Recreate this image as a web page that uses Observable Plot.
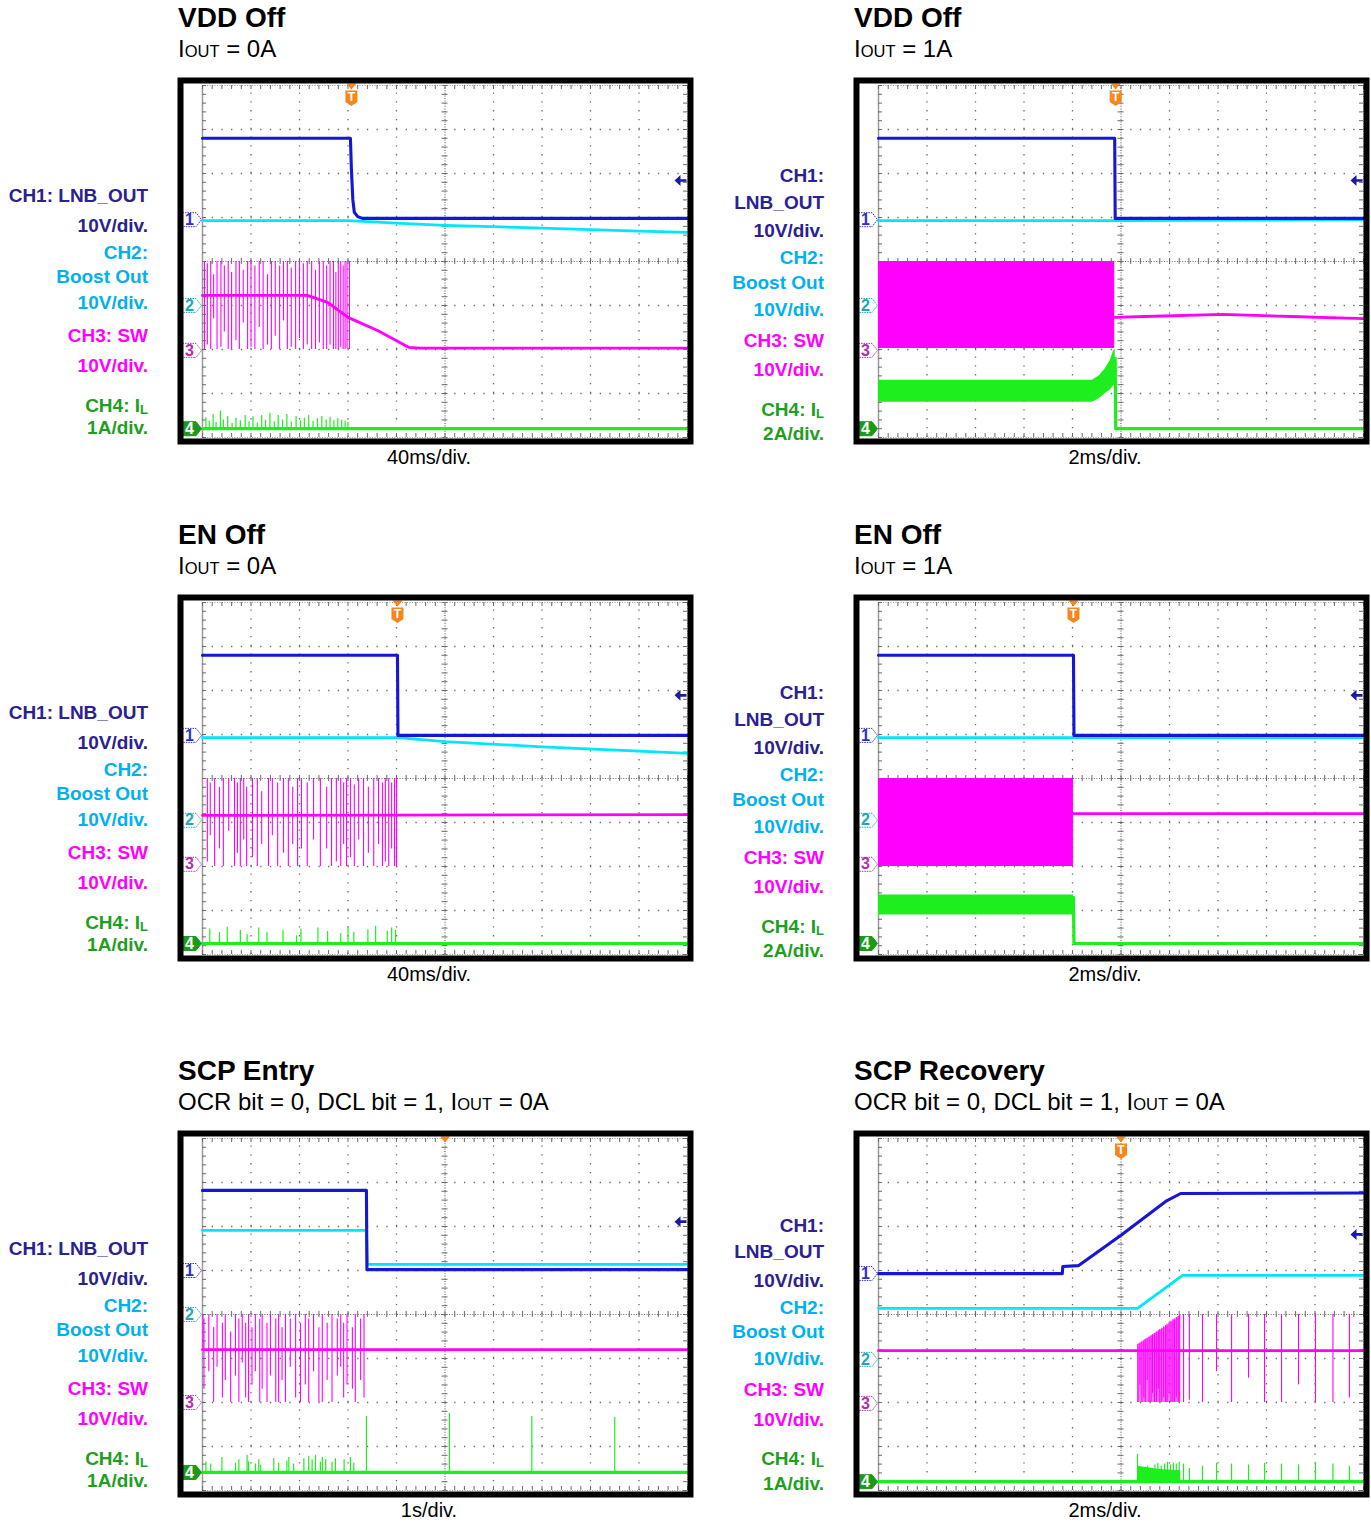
<!DOCTYPE html>
<html><head><meta charset="utf-8">
<script src="https://cdn.jsdelivr.net/npm/d3@7"></script>
<script src="https://cdn.jsdelivr.net/npm/@observablehq/plot@0.6"></script>
<style>
body{margin:0;background:#fff;}
#page{position:relative;width:1371px;height:1522px;background:#fff;font-family:"Liberation Sans",Arial,Helvetica,sans-serif;overflow:hidden;}
.title{position:absolute;font-weight:bold;font-size:28px;line-height:28px;white-space:nowrap;color:#000;}
.sub{position:absolute;font-size:24px;line-height:24px;white-space:nowrap;color:#000;}
.sub .s{font-size:16.5px;}
.tdiv{position:absolute;width:200px;text-align:center;font-size:20px;line-height:20px;color:#000;}
.lab{position:absolute;width:170px;text-align:right;font-weight:bold;font-size:19px;line-height:19px;white-space:nowrap;}
.lab sub{font-size:13px;vertical-align:-2px;line-height:0;}
.plot{position:absolute;}
</style></head><body><div id="page"></div>
<script>
// ---------- text ----------
const panelTitles = ["VDD Off","VDD Off","EN Off","EN Off","SCP Entry","SCP Recovery"];
const panelPrefix = ["","","","","OCR bit = 0, DCL bit = 1, ","OCR bit = 0, DCL bit = 1, "];
const panelIout = ["0A","1A","0A","1A","0A","0A"];
const timeDivs = ["40ms/div.","2ms/div.","40ms/div.","2ms/div.","1s/div.","2ms/div."];
const ch4Scales = ["1A/div.","2A/div.","1A/div.","2A/div.","1A/div.","1A/div."];
const splitCh1 = [false,true,false,true,false,true];
const triggerPos = [-1.93,-0.11,-0.98,-0.98,0,0];
const triggerBadge = [true,true,true,true,false,true];
const refArrow = [1.84,1.84,1.89,1.89,2.11,1.82];

// ---------- traces (time in divisions, level in divisions) ----------
const p1Ch1 = [[-5,2.8],[-1.95,2.8],[-1.93,2.1],[-1.9,1.4],[-1.87,1.12],[-1.8,1.02],[-1.7,0.98],[5,0.98]];
const p1Ch2 = [[-5,0.93],[-2.0,0.93],[-1.0,0.87],[0,0.82],[2,0.76],[4,0.69],[5,0.66]];
const p1Ch3 = [[-5,-0.77],[-2.84,-0.77],[-2.42,-0.93],[-2.0,-1.27],[-1.39,-1.57],[-0.75,-1.95],[-0.5,-1.97],[5,-1.97]];
const p1Ch4 = [[-5,-3.8],[5,-3.8]];
const p1Sw = [[-4.96,0,-2],[-4.9,-0.05,-1.9],[-4.83,0,-2],[-4.77,-0.3,-1.3],[-4.7,0,-2],[-4.62,0,-1.95],[-4.55,-0.1,-1.6],[-4.47,0,-2],[-4.4,-0.25,-2],[-4.31,0,-1.8],[-4.24,0,-2],[-4.16,-0.2,-1.4],[-4.07,0,-2],[-4.0,0,-1.95],[-3.92,-0.1,-2],[-3.83,0,-1.5],[-3.75,0,-2],[-3.66,-0.3,-1.9],[-3.58,0,-2],[-3.5,0,-1.7],[-3.41,-0.1,-2],[-3.33,0,-1.35],[-3.25,0,-2],[-3.17,-0.15,-1.95],[-3.08,0,-2],[-3.0,0,-1.75],[-2.92,-0.05,-2],[-2.84,0,-1.9],[-2.75,0,-2],[-2.67,-0.2,-2],[-2.59,0,-1.85],[-2.51,0,-2],[-2.44,-0.1,-2],[-2.37,0,-1.9],[-2.3,0,-2],[-2.25,-0.25,-2],[-2.2,0,-2],[-2.15,0,-1.95],[-2.1,-0.1,-2],[-2.06,0,-2],[-2.02,0,-1.98],[-1.97,0,-2]];
const p1Il = [[-4.93,-3.55],[-4.86,-3.63],[-4.78,-3.48],[-4.72,-3.66],[-4.63,-3.4],[-4.57,-3.6],[-4.48,-3.52],[-4.39,-3.68],[-4.31,-3.56],[-4.22,-3.62],[-4.12,-3.5],[-4.04,-3.64],[-3.96,-3.53],[-3.87,-3.67],[-3.78,-3.5],[-3.7,-3.61],[-3.61,-3.45],[-3.52,-3.64],[-3.44,-3.5],[-3.35,-3.6],[-3.26,-3.48],[-3.17,-3.65],[-3.07,-3.52],[-2.98,-3.62],[-2.9,-3.56],[-2.81,-3.5],[-2.72,-3.63],[-2.63,-3.57],[-2.54,-3.52],[-2.45,-3.6],[-2.37,-3.54],[-2.29,-3.62],[-2.21,-3.57],[-2.13,-3.6],[-2.06,-3.63],[-2.0,-3.66]];
const p1Tags = [0.95,-1.0,-2.02,-3.8];

const p2Ch1 = [[-5,2.8],[-0.13,2.8],[-0.12,0.98],[5,0.98]];
const p2Ch2 = [[-5,0.93],[-0.12,0.93],[5,0.95]];
const p2Ch3 = [[-0.13,-1.27],[0.5,-1.25],[2.09,-1.2],[3.5,-1.25],[5,-1.3]];
const p2Ch4 = [[-0.12,-2.2],[-0.11,-3.8],[5,-3.8]];
const p2SwBand = [[-5,-1.98,0],[-0.13,-1.98,0]];
const p2IlBand = [[-5,-3.2,-2.7],[-0.59,-3.2,-2.7],[-0.45,-3.12,-2.6],[-0.32,-3.0,-2.43],[-0.22,-2.92,-2.25],[-0.15,-2.82,-2.02],[-0.12,-2.8,-2.0]];
const p2Tags = [0.95,-1.0,-2.02,-3.8];

const p3Ch1 = [[-5,2.8],[-0.98,2.8],[-0.97,0.98],[5,0.98]];
const p3Ch2 = [[-5,0.93],[-0.98,0.93],[0,0.84],[2,0.72],[4,0.62],[5,0.57]];
const p3Ch3 = [[-5,-0.84],[5,-0.82]];
const p3Ch4 = [[-5,-3.75],[5,-3.75]];
const p3Sw = [[-4.9,0,-1.9],[-4.84,-0.1,-1.3],[-4.75,0,-2],[-4.65,-0.2,-1.6],[-4.57,0,-2],[-4.46,0,-1.2],[-4.34,0,-2],[-4.28,-0.1,-1.7],[-4.22,0,-2],[-4.15,0,-1.4],[-4.09,-0.2,-2],[-3.97,0,-1.8],[-3.87,0,-2],[-3.78,-0.3,-1.5],[-3.64,0,-2],[-3.56,0,-1.3],[-3.45,-0.1,-2],[-3.33,0,-1.7],[-3.23,0,-2],[-3.14,-0.2,-1.5],[-3.04,0,-2],[-2.96,0,-1.6],[-2.84,-0.1,-2],[-2.71,0,-1.4],[-2.57,0,-2],[-2.44,-0.2,-1.6],[-2.34,0,-2],[-2.24,0,-1.9],[-2.15,0,-2],[-2.09,-0.1,-1.5],[-2.03,0,-2],[-1.95,0,-1.8],[-1.87,-0.15,-2],[-1.78,0,-1.4],[-1.68,0,-2],[-1.58,-0.2,-1.7],[-1.47,0,-2],[-1.37,0,-1.5],[-1.29,-0.1,-2],[-1.23,0,-1.9],[-1.16,0,-2],[-1.1,-0.1,-1.6],[-1.04,0,-2],[-1.0,0,-2]];
const p3Il = [[-4.85,-3.42],[-4.65,-3.5],[-4.49,-3.38],[-4.22,-3.45],[-4.08,-3.55],[-3.84,-3.4],[-3.67,-3.5],[-3.34,-3.45],[-3.06,-3.58],[-2.97,-3.42],[-2.62,-3.4],[-2.42,-3.48],[-2.15,-3.52],[-2.0,-3.38],[-1.88,-3.5],[-1.59,-3.44],[-1.43,-3.36],[-1.19,-3.47],[-1.1,-3.4],[-1.02,-3.45]];
const p3Tags = [0.98,-0.95,-1.95,-3.75];

const p4Ch1 = [[-5,2.8],[-0.98,2.8],[-0.97,0.98],[5,0.98]];
const p4Ch2 = [[-5,0.93],[5,0.93]];
const p4Ch3 = [[-0.98,-0.8],[5,-0.8]];
const p4Ch4 = [[-0.98,-2.7],[-0.97,-3.75],[5,-3.75]];
const p4SwBand = [[-5,-2,0],[-0.98,-2,0]];
const p4IlBand = [[-5,-3.1,-2.65],[-0.98,-3.1,-2.65]];
const p4Tags = [0.98,-0.95,-1.95,-3.75];

const p5Ch1 = [[-5,2.82],[-1.62,2.82],[-1.61,1.02],[5,1.02]];
const p5Ch2 = [[-5,1.91],[-1.62,1.91],[-1.6,1.14],[5,1.14]];
const p5Ch3 = [[-5,-0.8],[5,-0.8]];
const p5Ch4 = [[-5,-3.59],[5,-3.59]];
const p5Sw = [[-4.99,0,-0.8],[-4.97,-0.1,-1.7],[-4.87,0,-1.3],[-4.77,-0.3,-2],[-4.7,0,-1.2],[-4.59,-0.2,-1.9],[-4.53,0,-1.5],[-4.42,-0.4,-2],[-4.32,0,-1.4],[-4.25,-0.1,-2],[-4.18,0,-1.1],[-4.11,-0.2,-1.9],[-4.05,0,-2],[-3.98,-0.3,-1.6],[-3.91,0,-1.3],[-3.82,-0.1,-2],[-3.77,0,-1.7],[-3.67,-0.2,-2],[-3.6,0,-1.4],[-3.49,-0.1,-2],[-3.43,0,-2],[-3.36,-0.3,-1.5],[-3.29,0,-2],[-3.19,-0.1,-1.2],[-3.08,0,-1.9],[-2.98,-0.2,-2],[-2.88,0,-1.6],[-2.81,-0.1,-2],[-2.71,0,-1.3],[-2.6,-0.3,-2],[-2.53,0,-2],[-2.43,-0.2,-1.5],[-2.33,0,-2],[-2.22,-0.1,-1.4],[-2.15,0,-1.2],[-2.09,-0.2,-1.9],[-2.02,0,-1.6],[-1.91,-0.3,-1.7],[-1.85,0,-2],[-1.74,-0.1,-1.5],[-1.67,0,-1.9]];
const p5Il = [[-4.93,-3.35],[-4.83,-3.4],[-4.6,-3.25],[-4.32,-3.38],[-4.25,-3.3],[-4.08,-3.2],[-4.05,-3.35],[-3.91,-3.4],[-3.84,-3.3],[-3.8,-3.42],[-3.53,-3.27],[-3.43,-3.38],[-3.26,-3.33],[-3.22,-3.25],[-3.12,-3.4],[-2.91,-3.28],[-2.81,-3.22],[-2.74,-3.3],[-2.67,-3.2],[-2.57,-3.35],[-2.53,-3.25],[-2.46,-3.3],[-2.33,-3.36],[-2.26,-3.28],[-2.08,-3.3],[-1.95,-3.25],[-1.88,-3.38],[-1.62,-2.32],[0.09,-2.25],[1.79,-2.32],[3.5,-2.34]];
const p5Tags = [1.0,0,-2.0,-3.59];

const p6Ch1 = [[-5,0.93],[-1.21,0.93],[-1.2,1.09],[-0.88,1.11],[0,1.8],[0.92,2.57],[1.23,2.75],[5,2.76]];
const p6Ch2 = [[-5,0.14],[0.34,0.14],[1.27,0.89],[5,0.89]];
const p6Ch3 = [[-5,-0.82],[5,-0.82]];
const p6Ch4 = [[-5,-3.8],[5,-3.8]];
const p6SwBand = [[0.34,-2.0,-0.68],[0.6,-2.0,-0.5],[0.9,-2.0,-0.3],[1.1,-2.0,-0.13],[1.22,-2.0,-0.03]];
const p6Sw = [[0.35,-0.68,-2],[0.39,-0.66,-1.6],[0.43,-0.63,-2],[0.47,-0.6,-1.9],[0.5,-0.57,-2],[0.54,-0.55,-1.5],[0.58,-0.52,-2],[0.62,-0.49,-2],[0.65,-0.46,-1.8],[0.69,-0.43,-2],[0.73,-0.4,-2],[0.77,-0.37,-1.7],[0.8,-0.34,-2],[0.84,-0.31,-2],[0.88,-0.28,-1.9],[0.92,-0.25,-2],[0.95,-0.22,-2],[0.99,-0.19,-1.8],[1.03,-0.15,-2],[1.07,-0.12,-2],[1.1,-0.1,-2],[1.14,-0.07,-1.9],[1.18,-0.04,-2],[1.21,-0.02,-2],[1.29,0,-2],[1.41,0,-1.95],[1.68,0,-2],[1.97,0,-1.3],[2.28,0,-2],[2.63,0,-1.45],[2.96,0,-2],[3.31,0,-2],[3.66,0,-1.6],[4.01,0,-2],[4.37,0,-2],[4.71,0,-1.9]];
const p6IlBand = [[0.34,-3.8,-3.45],[0.8,-3.8,-3.52],[1.23,-3.8,-3.55]];
const p6Il = [[0.34,-3.18],[0.4,-3.55],[0.47,-3.5],[0.55,-3.45],[0.62,-3.5],[0.7,-3.42],[0.76,-3.38],[0.83,-3.45],[0.9,-3.4],[0.96,-3.36],[1.02,-3.42],[1.08,-3.38],[1.14,-3.4],[1.2,-3.36],[1.29,-3.4],[1.41,-3.5],[1.68,-3.45],[1.97,-3.38],[2.28,-3.4],[2.63,-3.42],[2.96,-3.38],[3.31,-3.4],[3.66,-3.42],[4.01,-3.38],[4.37,-3.4],[4.71,-3.45]];
const p6Tags = [0.93,-1.02,-2.02,-3.8];

// ---------- layout ----------
const frameLeft = [177,853,177,853,177,853];
const frameTop = [77,77,594,594,1130,1130];
const labYLeft = [118,148,175,199,225,258,288,328,350];
const labYRight = [98,125,153,180,205,232,263,292,332,356];
const labYRight6 = [95,121,150,177,201,228,259,289,328,353];

const BLUE = "#1616d6", CYAN = "#00e6ff", MAG = "#ff00ff", GREEN = "#1eee1e", ORANGE = "#f7861c";
const labColors = ["#2b2190","#00b0f0","#ff00ff","#1ea01e"];
const tagStroke = ["#3030c8","#20a8b8","#b030b0","#1a9a1a"];

const panels = [
  {ch1:p1Ch1,ch2:p1Ch2,ch3:p1Ch3,ch4:p1Ch4,sw:p1Sw,swBand:[],il:p1Il,ilBand:[],tags:p1Tags},
  {ch1:p2Ch1,ch2:p2Ch2,ch3:p2Ch3,ch4:p2Ch4,sw:[],swBand:p2SwBand,il:[],ilBand:p2IlBand,tags:p2Tags},
  {ch1:p3Ch1,ch2:p3Ch2,ch3:p3Ch3,ch4:p3Ch4,sw:p3Sw,swBand:[],il:p3Il,ilBand:[],tags:p3Tags},
  {ch1:p4Ch1,ch2:p4Ch2,ch3:p4Ch3,ch4:p4Ch4,sw:[],swBand:p4SwBand,il:[],ilBand:p4IlBand,tags:p4Tags},
  {ch1:p5Ch1,ch2:p5Ch2,ch3:p5Ch3,ch4:p5Ch4,sw:p5Sw,swBand:[],il:p5Il,ilBand:[],tags:p5Tags},
  {ch1:p6Ch1,ch2:p6Ch2,ch3:p6Ch3,ch4:p6Ch4,sw:p6Sw,swBand:p6SwBand,il:p6Il,ilBand:p6IlBand,tags:p6Tags}
];

// ---------- symbols ----------
const tagSymbol = {draw(c){c.moveTo(-9.5,-7);c.lineTo(4,-7);c.lineTo(9.5,0);c.lineTo(4,7);c.lineTo(-9.5,7);c.closePath();}};
const triDown = {draw(c){c.moveTo(-5,-3);c.lineTo(5,-3);c.lineTo(0,3);c.closePath();}};
const shield = {draw(c){c.moveTo(-6,-7.5);c.lineTo(6,-7.5);c.lineTo(6,4);c.lineTo(0,8);c.lineTo(-6,4);c.closePath();}};
const leftArrow = {draw(c){c.moveTo(-6,0);c.lineTo(0,-5.5);c.lineTo(0,5.5);c.closePath();c.rect(0,-1.3,6,2.6);}};

const W = 516, H = 367, ML = 25, MR = 6, MT = 8, MB = 7;
const pxX = 10/(W-ML-MR), pxY = 8/(H-MT-MB);

function scope(i){
  const p = panels[i];
  const gx = [-4,-3,-2,-1,1,2,3,4], gy = [-3,-2,-1,1,2,3];
  const subX = d3.range(-5,5.001,0.2), subY = d3.range(-4,4.001,0.2);
  const ilBase = p.ch4[p.ch4.length-1][1];
  const G = "#6a6a6a";
  const marks = [
    Plot.ruleX(gx,{x:d=>d,y1:()=>-4,y2:()=>4,stroke:G,strokeWidth:1.3,strokeDasharray:"1.3,7.5"}),
    Plot.ruleY(gy,{y:d=>d,x1:()=>-5,x2:()=>5,stroke:G,strokeWidth:1.3,strokeDasharray:"1.3,8.4"}),
    Plot.ruleX([0],{y1:()=>-4,y2:()=>4,stroke:G,strokeWidth:1.2,strokeDasharray:"1,1.6"}),
    Plot.ruleY([0],{x1:()=>-5,x2:()=>5,stroke:G,strokeWidth:1.2,strokeDasharray:"1,1.6"}),
    Plot.ruleY(subY,{y:d=>d,x1:()=>-3*pxX,x2:()=>3*pxX,stroke:G,strokeWidth:1}),
    Plot.ruleX(subX,{x:d=>d,y1:()=>-3*pxY,y2:()=>3*pxY,stroke:G,strokeWidth:1}),
    Plot.ruleX([-5],{y1:()=>-4,y2:()=>4,stroke:"#9a9a9a",strokeWidth:1.5}),
    Plot.ruleX([5],{y1:()=>-4,y2:()=>4,stroke:"#9a9a9a",strokeWidth:1,strokeDasharray:"1,1.5"}),
    Plot.ruleY([4],{x1:()=>-5,x2:()=>5,stroke:"#9a9a9a",strokeWidth:1,strokeDasharray:"1,1.5"}),
    Plot.ruleY([-4],{x1:()=>-5,x2:()=>5,stroke:"#9a9a9a",strokeWidth:1,strokeDasharray:"1,1.5"}),
    Plot.ruleY(subY,{y:d=>d,x1:()=>-5,x2:()=>-5+4*pxX,stroke:G,strokeWidth:1}),
    Plot.ruleY(subY,{y:d=>d,x1:()=>5-4*pxX,x2:()=>5,stroke:G,strokeWidth:1}),
    Plot.ruleX(subX,{x:d=>d,y1:()=>4-4*pxY,y2:()=>4,stroke:G,strokeWidth:1}),
    Plot.ruleX(subX,{x:d=>d,y1:()=>-4,y2:()=>-4+4*pxY,stroke:G,strokeWidth:1}),
    // CH4
    Plot.areaY(p.ilBand,{x:d=>d[0],y1:d=>d[1],y2:d=>d[2],fill:GREEN}),
    Plot.ruleX(p.il,{x:d=>d[0],y1:()=>ilBase,y2:d=>d[1],stroke:GREEN,strokeWidth:1.2}),
    Plot.line(p.ch4,{x:d=>d[0],y:d=>d[1],stroke:GREEN,strokeWidth:3.2}),
    // CH3
    Plot.areaY(p.swBand,{x:d=>d[0],y1:d=>d[1],y2:d=>d[2],fill:MAG,fillOpacity: i===5?0.55:1}),
    Plot.ruleX(p.sw,{x:d=>d[0],y1:d=>d[1],y2:d=>d[2],stroke:MAG,strokeWidth:1.1}),
    Plot.line(p.ch3,{x:d=>d[0],y:d=>d[1],stroke:MAG,strokeWidth:2.8}),
    // CH2, CH1
    Plot.line(p.ch2,{x:d=>d[0],y:d=>d[1],stroke:CYAN,strokeWidth:2.8}),
    Plot.line(p.ch1,{x:d=>d[0],y:d=>d[1],stroke:BLUE,strokeWidth:3.1}),
    // reference arrow
    Plot.dot([refArrow[i]],{x:()=>5,y:d=>d,symbol:leftArrow,fill:"#1a1aa8",dx:-7}),
    // trigger
    Plot.dot([triggerPos[i]],{x:d=>d,y:()=>4,symbol:triDown,fill:ORANGE,dy:1})
  ];
  if (triggerBadge[i]) {
    marks.push(Plot.dot([triggerPos[i]],{x:d=>d,y:()=>4,symbol:shield,fill:ORANGE,dy:12.5}));
    marks.push(Plot.text([triggerPos[i]],{x:d=>d,y:()=>4,text:()=>"T",fill:"#fff",fontWeight:"bold",fontSize:12,dy:11.5}));
  }
  p.tags.forEach((lv,k)=>{
    const filled = k===3;
    marks.push(Plot.dot([lv],{x:()=>-5,y:d=>d,symbol:tagSymbol,dx:-10.5,fill:filled?tagStroke[k]:"#fff",stroke:tagStroke[k],strokeWidth:1,strokeDasharray:filled?null:"1.5,1"}));
    marks.push(Plot.text([lv],{x:()=>-5,y:d=>d,text:()=>String(k+1),dx:-13,fill:filled?"#fff":tagStroke[k],fontWeight:"bold",fontSize:16}));
  });
  marks.push(Plot.frame({stroke:"#000",strokeWidth:6,insetLeft:-22,insetRight:-3,insetTop:-5,insetBottom:-4}));
  return Plot.plot({
    width:W,height:H,marginLeft:ML,marginRight:MR,marginTop:MT,marginBottom:MB,
    x:{domain:[-5,5],axis:null},y:{domain:[-4,4],axis:null},
    style:{background:"transparent",overflow:"visible",fontFamily:"Liberation Sans, Arial, sans-serif"},
    marks
  });
}

const page = document.getElementById("page");
function addDiv(cls, left, top, html, extra){
  const d = document.createElement("div");
  d.className = cls; d.style.left = left+"px"; d.style.top = top+"px"; d.innerHTML = html;
  if (extra) Object.assign(d.style, extra);
  page.appendChild(d); return d;
}
for (let i=0;i<6;i++){
  const L = frameLeft[i], T = frameTop[i];
  addDiv("title", L+1, T-72.7, panelTitles[i]);
  addDiv("sub", L+1, T-40.3, panelPrefix[i]+"I<span class=s>OUT</span> = "+panelIout[i]);
  addDiv("tdiv", L+152, T+370, timeDivs[i]);
  const lines = splitCh1[i]
    ? [["CH1:",0],["LNB_OUT",0],["10V/div.",0],["CH2:",1],["Boost Out",1],["10V/div.",1],["CH3: SW",2],["10V/div.",2],["CH4: I<sub>L</sub>",3],[ch4Scales[i],3]]
    : [["CH1: LNB_OUT",0],["10V/div.",0],["CH2:",1],["Boost Out",1],["10V/div.",1],["CH3: SW",2],["10V/div.",2],["CH4: I<sub>L</sub>",3],[ch4Scales[i],3]];
  const ys = splitCh1[i] ? (i===5 ? labYRight6 : labYRight) : labYLeft;
  lines.forEach((ln,k)=>{
    addDiv("lab", L-29-170, T+ys[k]-9.3, ln[0], {color:labColors[ln[1]]});
  });
  const w = document.createElement("div");
  w.className = "plot"; w.style.left = L+"px"; w.style.top = T+"px";
  w.appendChild(scope(i));
  page.appendChild(w);
}
</script></body></html>
